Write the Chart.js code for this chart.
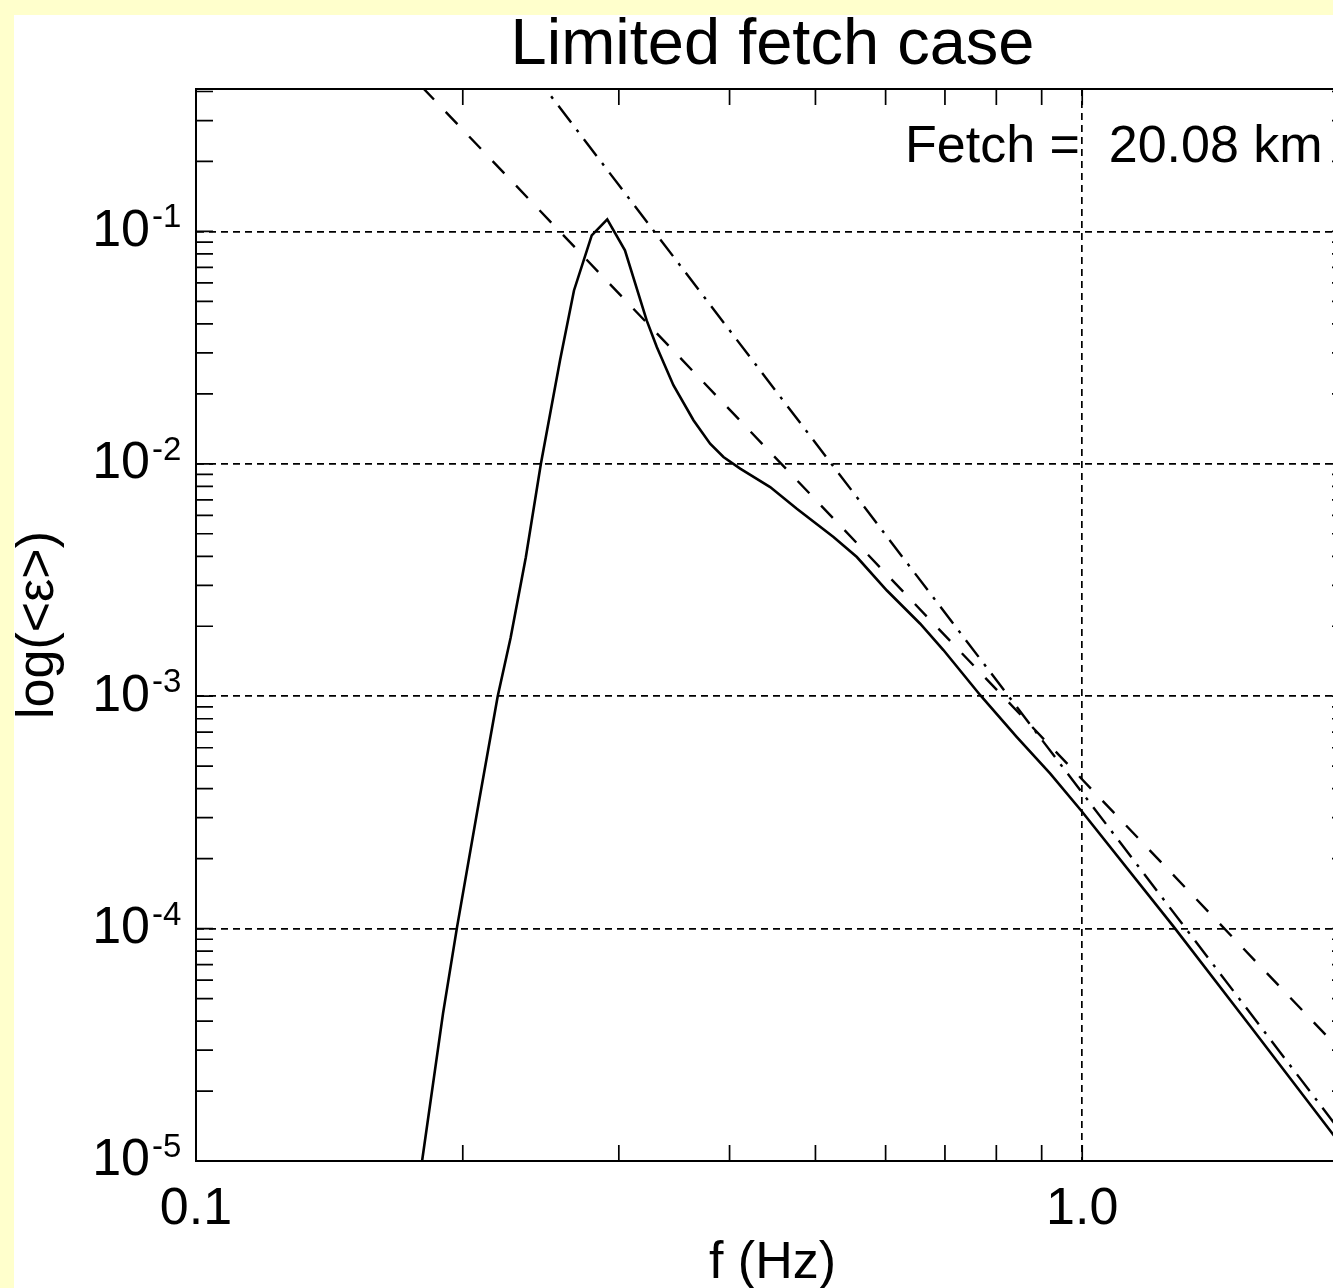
<!DOCTYPE html>
<html>
<head>
<meta charset="utf-8">
<script src="https://cdn.jsdelivr.net/npm/chart.js@4.4.1/dist/chart.umd.min.js"></script>
<style>
html, body { margin:0; padding:0; width:1333px; height:1288px; overflow:hidden; background:#ffffcc; }
#panel { position:absolute; left:14px; top:15px; width:1400px; height:1400px; background:#ffffff; }
#c { position:absolute; left:0; top:0; }
</style>
</head>
<body>
<div id="panel"></div>
<canvas id="c" width="1400" height="1320"></canvas>
<script>
// ---- data ----
const freq = [0.179, 0.190, 0.197, 0.2085, 0.219, 0.2265, 0.2356, 0.245, 0.2575, 0.267,
              0.2796, 0.2911, 0.3048, 0.3225, 0.3311, 0.3457, 0.3642, 0.3803, 0.3937, 0.4112,
              0.4445, 0.4764, 0.524, 0.5568, 0.602, 0.6564, 0.6972, 0.7673, 0.8438, 0.9203,
              0.9992, 1.268, 1.547, 1.922, 2.0];
const energy = [8.7e-6, 4.32e-5, 1.01e-4, 3.49e-4, 1.0e-3, 1.79e-3, 3.96e-3, 1.0e-2, 2.79e-2, 5.57e-2,
                9.61e-2, 0.1126, 8.29e-2, 4.14e-2, 3.18e-2, 2.18e-2, 1.54e-2, 1.22e-2, 1.07e-2, 9.53e-3,
                7.94e-3, 6.41e-3, 4.84e-3, 3.97e-3, 2.85e-3, 2.05e-3, 1.58e-3, 1.01e-3, 6.67e-4, 4.64e-4,
                3.19e-4, 1.02e-4, 3.81e-5, 1.29e-5, 1.05e-5];
// f^-4 reference line (dashed) end points
const fit4Freq = [0.18, 2.0];
const fit4Energy = [0.4172, 2.74e-5];
// f^-5 reference line (dash-dot) end points
const fit5Freq = [0.24, 2.0];
const fit5Energy = [0.4832, 1.2e-5];

const xTickValues = [0.1, 1.0];
const xTickLabels = ['0.1', '1.0'];
const yTickValues = [1e-5, 1e-4, 1e-3, 1e-2, 1e-1];
const yTickLabels = ['10', '10', '10', '10', '10'];
const yTickExponents = ['-5', '-4', '-3', '-2', '-1'];

const titleText = 'Limited fetch case';
const xTitleText = 'f (Hz)';
const yTitleText = 'log(<\u03B5>)';
const fetchText = 'Fetch =  20.08 km';

const FONT = '"Liberation Sans", Arial, Helvetica, sans-serif';
Chart.defaults.font.family = FONT;
Chart.defaults.color = '#000';

const pts = (xs, ys) => xs.map((v, i) => ({x: v, y: ys[i]}));
const close = (a, b) => Math.abs(a - b) <= Math.abs(b) * 1e-6;
const isDecade = v => { const l = Math.log10(v); return Math.abs(l - Math.round(l)) < 1e-6; };
const isNice = v => { const p = Math.pow(10, Math.floor(Math.log10(v) + 1e-9)); const s = v / p; return Math.abs(s - Math.round(s)) < 1e-6; };
const lookup = (vals, labs, v) => { for (let i = 0; i < vals.length; i++) if (close(v, vals[i])) return labs[i]; return ''; };

const frame = {
  id: 'frame',
  afterDraw(chart) {
    const {ctx, chartArea: a, scales: {x, y}} = chart;
    ctx.save();
    ctx.strokeStyle = '#000';
    ctx.lineWidth = 1.7;
    ctx.beginPath();
    x.ticks.forEach(t => {
      if (t.value < x.min || t.value > x.max || !isNice(t.value)) return;
      const px = x.getPixelForValue(t.value);
      ctx.moveTo(px, a.bottom); ctx.lineTo(px, a.bottom - 16);
      ctx.moveTo(px, a.top); ctx.lineTo(px, a.top + 16);
    });
    y.ticks.forEach(t => {
      if (t.value < y.min || t.value > y.max || !isNice(t.value)) return;
      const py = y.getPixelForValue(t.value);
      ctx.moveTo(a.left, py); ctx.lineTo(a.left + 17, py);
      ctx.moveTo(a.right, py); ctx.lineTo(a.right - 17, py);
    });
    ctx.stroke();
    ctx.lineWidth = 2;
    ctx.strokeRect(a.left, a.top, a.right - a.left, a.bottom - a.top);
    ctx.fillStyle = '#000';
    // exponents of the y tick labels
    ctx.font = '33px ' + FONT;
    ctx.textAlign = 'left';
    ctx.textBaseline = 'alphabetic';
    yTickValues.forEach((v, i) => {
      const py = y.getPixelForValue(v);
      ctx.fillText(yTickExponents[i], a.left - 44, py - 4);
    });
    ctx.font = '52px ' + FONT;
    ctx.fillText(fetchText, a.left + 709, a.top + 73);
    ctx.restore();
  }
};

new Chart(document.getElementById('c'), {
  type: 'scatter',
  data: {
    datasets: [
      { data: pts(freq, energy), showLine: true, borderColor: '#000', borderWidth: 2.6, pointRadius: 0, tension: 0 },
      { data: pts(fit4Freq, fit4Energy), showLine: true, borderColor: '#000', borderWidth: 2.4, borderDash: [17, 17], pointRadius: 0 },
      { data: pts(fit5Freq, fit5Energy), showLine: true, borderColor: '#000', borderWidth: 2.4, borderDash: [21, 9, 3, 9], pointRadius: 0 }
    ]
  },
  options: {
    responsive: false,
    animation: false,
    layout: { padding: { left: 0, top: 0, right: 51, bottom: 0 } },
    plugins: {
      legend: { display: false },
      tooltip: { enabled: false },
      title: {
        display: true, text: titleText, fullSize: false, color: '#000',
        font: { size: 65, weight: 'normal' },
        padding: { top: 7, bottom: 4 }
      }
    },
    scales: {
      x: {
        type: 'logarithmic', min: 0.1, max: 2.0,
        afterFit: s => { s.height = 159; },
        border: { display: true, color: '#000', width: 2, dash: [7, 5] },
        grid: {
          drawTicks: false, lineWidth: 1.7,
          color: c => (c.tick && isDecade(c.tick.value)) ? '#000' : 'rgba(0,0,0,0)'
        },
        ticks: {
          autoSkip: false, maxRotation: 0, padding: 17, color: '#000',
          font: { size: 52 },
          callback: v => lookup(xTickValues, xTickLabels, v)
        },
        title: { display: true, text: xTitleText, color: '#000', font: { size: 52 }, padding: { top: 0, bottom: 25 } }
      },
      y: {
        type: 'logarithmic', min: 1e-5, max: 0.41,
        afterFit: s => { s.width = 196; },
        border: { display: true, color: '#000', width: 2, dash: [7, 5] },
        grid: {
          drawTicks: false, lineWidth: 1.7,
          color: c => (c.tick && isDecade(c.tick.value)) ? '#000' : 'rgba(0,0,0,0)'
        },
        ticks: {
          autoSkip: false, padding: 46, color: '#000',
          font: { size: 52 },
          callback: v => lookup(yTickValues, yTickLabels, v)
        },
        title: { display: true, text: yTitleText, color: '#000', font: { size: 52 }, padding: { top: 7, bottom: 0 } }
      }
    }
  },
  plugins: [frame]
});
</script>
</body>
</html>
